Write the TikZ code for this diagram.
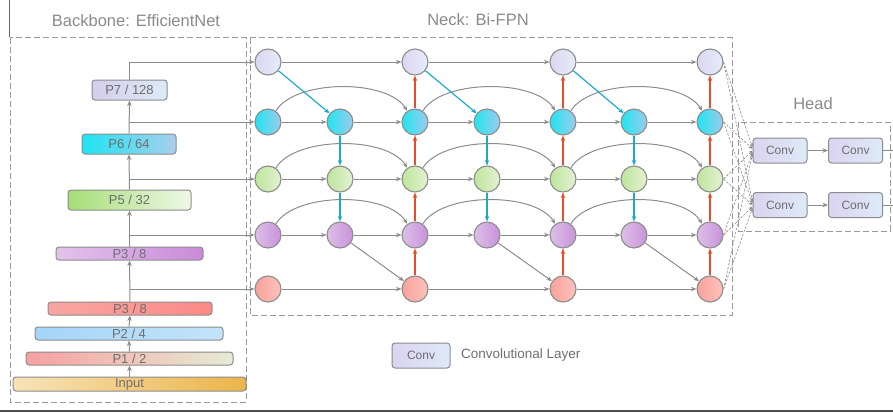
\documentclass[tikz,border=0pt]{standalone}
\usepackage{fontspec}
\setmainfont{Liberation Sans}
\usetikzlibrary{arrows.meta}

\definecolor{ln}{HTML}{8C8C8C}
\definecolor{bl}{HTML}{1FA9C9}
\definecolor{rd}{HTML}{E0502C}
\definecolor{txt}{HTML}{6E6E6E}
\definecolor{ttl}{HTML}{8A8A8A}
\definecolor{dsh}{HTML}{9A9A9A}
% circle colours
\definecolor{la}{HTML}{DCD7F1}\definecolor{ra}{HTML}{E6ECFA}
\definecolor{lb}{HTML}{1FE6F0}\definecolor{rb}{HTML}{9FC9EC}
\definecolor{lc}{HTML}{BEE59A}\definecolor{rc}{HTML}{E3F2D3}
\definecolor{ld}{HTML}{DDBFE8}\definecolor{rdd}{HTML}{C993DA}
\definecolor{le}{HTML}{F7A19B}\definecolor{re}{HTML}{FDC3BC}
% box colours
\definecolor{b7l}{HTML}{D5CDEB}\definecolor{b7r}{HTML}{DCEBF8}
\definecolor{b6l}{HTML}{1EE4F2}\definecolor{b6r}{HTML}{A9CFEE}
\definecolor{b5l}{HTML}{A6DE78}\definecolor{b5r}{HTML}{EEF7E6}
\definecolor{b4l}{HTML}{E2C4EA}\definecolor{b4r}{HTML}{C98AD9}
\definecolor{b3l}{HTML}{F8A6A2}\definecolor{b3r}{HTML}{FC8A86}
\definecolor{b2l}{HTML}{A5D5F7}\definecolor{b2r}{HTML}{C3E4FA}
\definecolor{b1l}{HTML}{F7A0A0}\definecolor{b1r}{HTML}{E6EBD5}
\definecolor{b0l}{HTML}{F7E3B8}\definecolor{b0r}{HTML}{EBB54A}
\definecolor{convl}{HTML}{DCD3F0}\definecolor{convr}{HTML}{DDEAF8}

\begin{document}
\begin{tikzpicture}[x=1pt,y=-1pt,
 garr/.style={draw=ln, line width=1pt, -{Stealth[length=5.5pt,width=4.5pt]}},
 barr/.style={draw=bl, line width=1.2pt, -{Stealth[length=5.5pt,width=4.5pt]}},
 rarr/.style={draw=rd, line width=1.2pt, -{Stealth[length=5.5pt,width=4.5pt]}},
 fan/.style={draw=ln, line width=0.6pt, dash pattern=on 2.5pt off 1.5pt, -{Stealth[length=4pt,width=3.5pt]}},
 bbox/.style={draw=ln, line width=1pt, rounded corners=3pt, inner sep=0pt, font=\fontsize{13}{13}\selectfont, text=txt},
 nd/.style={circle, draw=ln, line width=1.1pt, minimum size=26pt, inner sep=0pt},
 conv/.style={draw=ln, line width=1pt, rounded corners=3pt, minimum width=54pt, minimum height=25pt, inner sep=0pt, left color=convl, right color=convr, font=\fontsize{12}{12}\selectfont, text=txt},
 frame/.style={draw=dsh, line width=1pt, dash pattern=on 6pt off 3pt},
 title/.style={text=ttl, font=\fontsize{16.5}{16.5}\selectfont, inner sep=0pt}
]
\useasboundingbox (0,0) rectangle (893,412);

% screenshot edges
\draw[black!70, line width=2pt] (0,411) -- (893,411);
\draw[black!60, line width=1pt] (9.5,0) -- (9.5,37);

% frames
\draw[frame] (10,38) rectangle (246,402);
\draw[frame] (250,38) rectangle (732,315);
\draw[frame] (738,122) rectangle (890,231);

% titles
\node[title] (tb) at (136,20.5) {Backbone: EfficientNet};
\node[title] (tn) at (478,19.5) {Neck: Bi-FPN};
\node[title] (th) at (813,103.5) {Head};

% backbone boxes
\node[bbox, minimum width=75pt, minimum height=20pt, left color=b7l, right color=b7r] (P7) at (129.5,90) {P7 / 128};
\node[bbox, minimum width=94pt, minimum height=20pt, left color=b6l, right color=b6r] (P6) at (129,144) {P6 / 64};
\node[bbox, minimum width=123pt, minimum height=20pt, left color=b5l, right color=b5r] (P5) at (129.5,200) {P5 / 32};
\node[bbox, minimum width=147pt, minimum height=13pt, left color=b4l, right color=b4r] (P4) at (129.5,253.5) {P3 / 8};
\node[bbox, minimum width=164pt, minimum height=13pt, left color=b3l, right color=b3r] (P3) at (130,308.5) {P3 / 8};
\node[bbox, minimum width=188pt, minimum height=13pt, left color=b2l, right color=b2r] (P2) at (129,333.5) {P2 / 4};
\node[bbox, minimum width=207pt, minimum height=13pt, left color=b1l, right color=b1r] (P1) at (129.5,358.5) {P1 / 2};
\node[bbox, minimum width=233pt, minimum height=14pt, left color=b0l, right color=b0r] (IN) at (129.5,384) {Input};

% neck nodes
\foreach \c/\x in {1/268,3/415,5/563,7/710}{
  \foreach \r/\y/\lcol/\rcol in {1/62/la/ra,2/122/lb/rb,3/179/lc/rc,4/235/ld/rdd,5/289/le/re}{
    \node[nd, left color=\lcol, right color=\rcol] (n\c\r) at (\x,\y) {};
  }
}
\foreach \c/\x in {2/340,4/487,6/634}{
  \foreach \r/\y/\lcol/\rcol in {2/122/lb/rb,3/179/lc/rc,4/235/ld/rdd}{
    \node[nd, left color=\lcol, right color=\rcol] (n\c\r) at (\x,\y) {};
  }
}

% backbone spine
\draw[garr] (IN.north) -- (P1.south);
\draw[garr] (P1.north) -- (P2.south);
\draw[garr] (P2.north) -- (P3.south);
\draw[garr] (P3.north) -- (P4.south);
\draw[garr] (P4.north) -- (P5.south);
\draw[garr] (P5.north) -- (P6.south);
\draw[garr] (P6.north) -- (P7.south);
\draw[garr] (P7.north) |- (n11);
\draw[garr] (P6.north |- n12) -- (n12);
\draw[garr] (P5.north |- n13) -- (n13);
\draw[garr] (P4.north |- n14) -- (n14);
\draw[garr] (P3.north |- n15) -- (n15);

% horizontal edges
\foreach \r in {1,5}{
  \draw[garr] (n1\r) -- (n3\r);
  \draw[garr] (n3\r) -- (n5\r);
  \draw[garr] (n5\r) -- (n7\r);
}
\foreach \r in {2,3,4}{
  \draw[garr] (n1\r) -- (n2\r);
  \draw[garr] (n2\r) -- (n3\r);
  \draw[garr] (n3\r) -- (n4\r);
  \draw[garr] (n4\r) -- (n5\r);
  \draw[garr] (n5\r) -- (n6\r);
  \draw[garr] (n6\r) -- (n7\r);
  \draw[garr] (n1\r.55) .. controls +(20,-32) and +(-20,-32) .. (n3\r.125);
  \draw[garr] (n3\r.55) .. controls +(20,-32) and +(-20,-32) .. (n5\r.125);
  \draw[garr] (n5\r.55) .. controls +(20,-32) and +(-20,-32) .. (n7\r.125);
}

% top-down (blue) and bottom-up (red) paths
\foreach \a/\b/\c in {1/2/3,3/4/5,5/6/7}{
  \draw[barr] (n\a1) -- (n\b2);
  \draw[barr] (n\b2) -- (n\b3);
  \draw[barr] (n\b3) -- (n\b4);
  \draw[garr] (n\b4) -- (n\c5);
  \draw[rarr] (n\c5) -- (n\c4);
  \draw[rarr] (n\c4) -- (n\c3);
  \draw[rarr] (n\c3) -- (n\c2);
  \draw[rarr] (n\c2) -- (n\c1);
}

% head
\node[conv] (ha1) at (780,150.5) {Conv};
\node[conv] (ha2) at (855.5,150.5) {Conv};
\node[conv] (hb1) at (780,205) {Conv};
\node[conv] (hb2) at (855.5,205) {Conv};
\draw[garr] (ha1) -- (ha2);
\draw[garr] (hb1) -- (hb2);
\coordinate (ea) at (893,150.5);
\coordinate (eb) at (893,205);
\draw[draw=ln, line width=1pt] (ha2) -- (ea);
\draw[draw=ln, line width=1pt] (hb2) -- (eb);
\foreach \r in {1,...,5}{
  \draw[fan] (n7\r.east) -- ([yshift={(3-\r)*1.6pt}]ha1.west);
  \draw[fan] (n7\r.east) -- ([yshift={(3-\r)*1.6pt}]hb1.west);
}

% legend
\node[conv, minimum width=58pt] (lg) at (421,355.5) {Conv};
\node[anchor=west, text=txt, font=\fontsize{13.5}{13.5}\selectfont, inner sep=0pt] (lgt) at (461,355.5) {Convolutional Layer};
\end{tikzpicture}
\end{document}
